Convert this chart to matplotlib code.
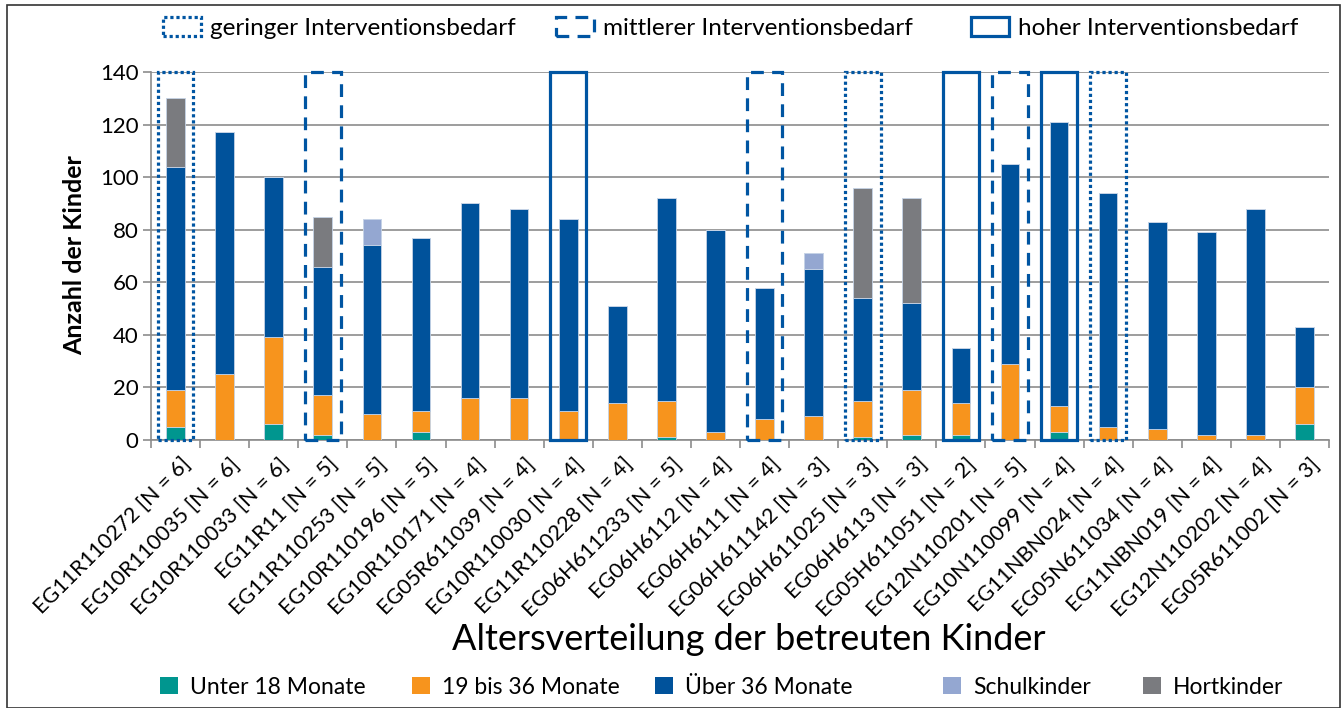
import numpy as np
import matplotlib
matplotlib.use("Agg")
import matplotlib.pyplot as plt
from matplotlib.patches import Patch, Rectangle

plt.rcParams['font.family'] = ['Lato', 'DejaVu Sans']

labels = ["EG11R110272 [N = 6]", "EG10R110035 [N = 6]", "EG10R110033 [N = 6]", "EG11R11 [N = 5]",
          "EG11R110253 [N = 5]", "EG10R110196 [N = 5]", "EG10R110171 [N = 4]", "EG05R611039 [N = 4]",
          "EG10R110030 [N = 4]", "EG11R110228 [N = 4]", "EG06H611233 [N = 5]", "EG06H6112 [N = 4]",
          "EG06H6111 [N = 4]", "EG06H611142 [N = 3]", "EG06H611025 [N = 3]", "EG06H6113 [N = 3]",
          "EG05H611051 [N = 2]", "EG12N110201 [N = 5]", "EG10N110099 [N = 4]", "EG11NBN024 [N = 4]",
          "EG05N611034 [N = 4]", "EG11NBN019 [N = 4]", "EG12N110202 [N = 4]", "EG05R611002 [N = 3]"]

unter18 = [5, 0, 6, 2, 0, 3, 0, 0, 0, 0, 1, 0, 0, 0, 1, 2, 2, 0, 3, 0, 0, 0, 0, 6]
m19_36 = [14, 25, 33, 15, 10, 8, 16, 16, 11, 14, 14, 3, 8, 9, 14, 17, 12, 29, 10, 5, 4, 2, 2, 14]
ueber36 = [85, 92, 61, 49, 64, 66, 74, 72, 73, 37, 77, 77, 50, 56, 39, 33, 21, 76, 108, 89, 79, 77, 86, 23]
schul = [0, 0, 0, 0, 10, 0, 0, 0, 0, 0, 0, 0, 0, 6, 0, 0, 0, 0, 0, 0, 0, 0, 0, 0]
hort = [26, 0, 0, 19, 0, 0, 0, 0, 0, 0, 0, 0, 0, 0, 42, 40, 0, 0, 0, 0, 0, 0, 0, 0]

# Interventionsbedarf je Einrichtung ("" = keiner markiert)
bedarf = ["gering", "", "", "mittel", "", "", "", "", "hoch", "", "", "",
          "mittel", "", "gering", "", "hoch", "mittel", "hoch", "gering", "", "", "", ""]

series = [("Unter 18 Monate", unter18, "#00968F"),
          ("19 bis 36 Monate", m19_36, "#F7941D"),
          ("Über 36 Monate", ueber36, "#00529B"),
          ("Schulkinder", schul, "#94A7D1"),
          ("Hortkinder", hort, "#7A7B7F")]

BLUE = "#0055A2"
styles = {"gering": (0, (1, 0.9)), "mittel": (0, (4, 2.6)), "hoch": "-"}
names = {"gering": "geringer Interventionsbedarf",
         "mittel": "mittlerer Interventionsbedarf",
         "hoch": "hoher Interventionsbedarf"}

W, H = 1343, 708
fig = plt.figure(figsize=(W / 100, H / 100), dpi=100)
ax = fig.add_axes([151 / W, 1 - 440 / H, 1178 / W, 368 / H])

x = np.arange(len(labels))
bottom = np.zeros(len(labels))
handles = []
for name, vals, col in series:
    vals = np.array(vals, dtype=float)
    ax.bar(x, vals, 0.38, bottom=bottom, color=col, edgecolor="#C5D3E6",
           linewidth=0.6, label=name, zorder=3)
    handles.append(Patch(facecolor=col, edgecolor="none", label=name))
    bottom += vals

for i, lvl in enumerate(bedarf):
    if lvl:
        ax.add_patch(Rectangle((i - 0.365, 0), 0.73, 140, fill=False, edgecolor=BLUE,
                               linewidth=2.3, linestyle=styles[lvl], zorder=4, clip_on=False))

ax.set_xlim(-0.5, len(labels) - 0.5)
ax.set_ylim(0, 140)
ax.set_yticks(range(0, 141, 20))
ax.grid(axis="y", color="#8C8C8C", linewidth=1.2, zorder=0)
ax.set_xticks(x + 0.1)
ax.set_xticklabels(labels, rotation=45, ha="right", va="top", rotation_mode="anchor", fontsize=15.5)
ax.tick_params(axis="x", length=0, pad=10)
ax.set_xticks(np.arange(-0.5, len(labels), 1), minor=True)
ax.tick_params(axis="x", which="minor", length=6, color="#8C8C8C", width=1.2)
ax.tick_params(axis="y", labelsize=16, length=6, color="#8C8C8C", width=1.2, pad=3)
for s in ["top", "right"]:
    ax.spines[s].set_visible(False)
for s in ["left", "bottom"]:
    ax.spines[s].set_color("#8C8C8C")
    ax.spines[s].set_linewidth(1.2)

fig.text(75 / W, 1 - 255 / H, "Anzahl der Kinder", rotation=90, ha="center", va="center",
         fontsize=18, fontweight="bold")
fig.text(749 / W, 1 - 640 / H, "Altersverteilung der betreuten Kinder", ha="center",
         va="center", fontsize=26)

# untere Legende: Einträge einzeln gesetzt wie im Original
for h, xp in zip(handles, [160, 412, 655, 943, 1143]):
    fig.legend(handles=[h], loc="center left", bbox_to_anchor=(xp / W, 1 - 687 / H),
               frameon=False, fontsize=16.5, handlelength=0.8, handleheight=0.72,
               handletextpad=0.5, borderpad=0, borderaxespad=0)

for k, xp in zip(["gering", "mittel", "hoch"], [163, 556, 971]):
    h = Patch(facecolor="none", edgecolor=BLUE, linewidth=2.3, linestyle=styles[k], label=names[k])
    fig.legend(handles=[h], loc="center left", bbox_to_anchor=(xp / W, 1 - 28 / H),
               frameon=False, fontsize=17.5, handlelength=1.55, handleheight=0.8,
               handletextpad=0.4, borderpad=0, borderaxespad=0)

fig.add_artist(Rectangle((7 / W, 0), 1333 / W, 1 - 5 / H, transform=fig.transFigure,
                         fill=False, edgecolor="#333333", linewidth=1.2))

fig.savefig("out.png", dpi=100)
